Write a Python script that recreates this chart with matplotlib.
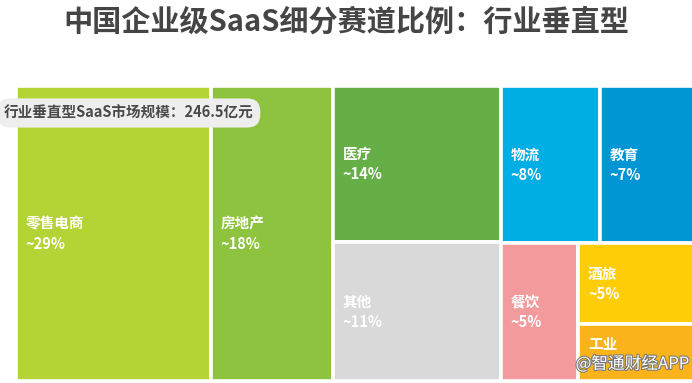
import matplotlib
matplotlib.use("Agg")
from matplotlib import pyplot as plt
from matplotlib.patches import Rectangle
import matplotlib.patheffects as pe

plt.rcParams['font.family'] = ['Noto Sans CJK SC', 'DejaVu Sans']

title = "中国企业级SaaS细分赛道比例：行业垂直型"
badge = "行业垂直型SaaS市场规模：246.5亿元"
names = ["零售电商", "房地产", "医疗", "其他", "物流", "教育", "餐饮", "酒旅", "工业"]
# cell sizes (areas), labels as printed
values = [28, 17.5, 12.8, 11.4, 7.5, 7.2, 5.2, 4.6, 3.2]
pct_labels = ["~29%", "~18%", "~14%", "~11%", "~8%", "~7%", "~5%", "~5%", ""]
colors = ["#b4d334", "#8dc33f", "#66ae46", "#d9d9da", "#00aee6",
          "#0096d5", "#f29a9c", "#fecd07", "#fab31b"]
# nesting of the cells: lists alternate between side-by-side and stacked
tree = [0, 1, [2, 3], [[4, 5], [6, [7, 8]]]]


def total(node):
    if isinstance(node, int):
        return values[node]
    return sum(total(n) for n in node)


def place(node, x, y, w, h, across):
    if isinstance(node, int):
        ax.add_patch(Rectangle((x, y), w, h, facecolor=colors[node],
                               edgecolor="white", linewidth=2.6))
        cy = y + h / 2
        ax.annotate(names[node], (x, cy), xytext=(7, 7), textcoords="offset points",
                    color="white", fontsize=10.5, fontweight="bold",
                    ha="left", va="center")
        if pct_labels[node]:
            ax.annotate(pct_labels[node], (x, cy), xytext=(7, -7.5),
                        textcoords="offset points", color="white",
                        fontsize=10.5, fontweight="bold", ha="left", va="center")
        return
    s = total(node)
    for child in node:
        f = total(child) / s
        if across:
            place(child, x, y, w * f, h, False)
            x += w * f
        else:
            place(child, x, y, w, h * f, True)
            y += h * f


fig = plt.figure(figsize=(6.92, 3.83), dpi=100)
ax = fig.add_axes([16 / 692, 2 / 383, 678 / 692, 295 / 383])
ax.set_xlim(0, 1)
ax.set_ylim(1, 0)
ax.axis("off")

place(tree, 0, 0, 1, 1, True)

fig.text(0.5, 1 - 22 / 383, title, ha="center", va="center", fontsize=21,
         fontweight="bold", color="#454545")

fig.text(4 / 692, 1 - 113 / 383, badge, ha="left", va="center", fontsize=10.5,
         fontweight="bold", color="#4a4a4a",
         bbox=dict(boxstyle="round,pad=0.45,rounding_size=0.9",
                   facecolor="#eeeeee", edgecolor="none"))

fig.text(689 / 692, 1 - 364 / 383, "@智通财经APP", ha="right", va="center",
         fontsize=12, color="white",
         path_effects=[pe.withStroke(linewidth=1.5, foreground="#777777")])

fig.savefig("out.png", dpi=100)
